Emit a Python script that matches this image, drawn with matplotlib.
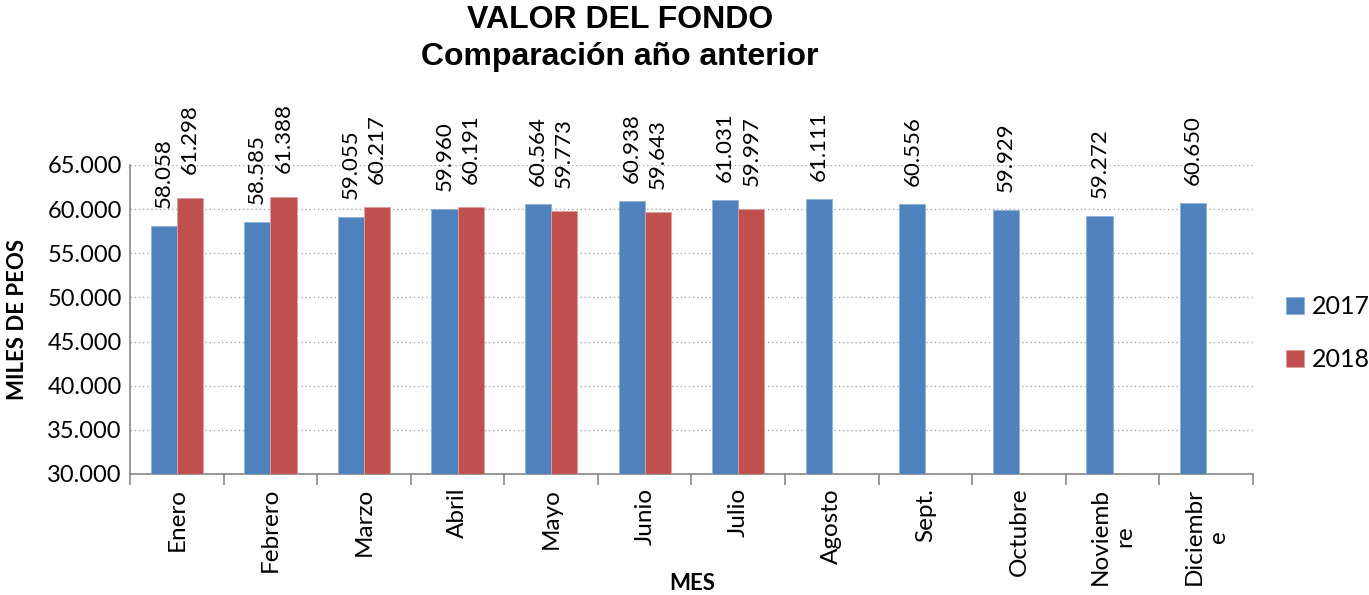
import matplotlib
matplotlib.use("Agg")
import matplotlib.pyplot as plt
import numpy as np

months = ["Enero", "Febrero", "Marzo", "Abril", "Mayo", "Junio", "Julio",
          "Agosto", "Sept.", "Octubre", "Noviemb\nre", "Diciembr\ne"]
v2017 = [58058, 58585, 59055, 59960, 60564, 60938, 61031, 61111, 60556, 59929, 59272, 60650]
v2018 = [61298, 61388, 60217, 60191, 59773, 59643, 59997]
yticks = [30000, 35000, 40000, 45000, 50000, 55000, 60000, 65000]

def fmt(v):
    return f"{v:,}".replace(",", ".")

plt.rcParams['font.family'] = ['Lato', 'DejaVu Sans']

fig = plt.figure(figsize=(13.69, 5.95), dpi=100)
ax = fig.add_axes([130/1369, 1-474/595, (1253-130)/1369, (474-165)/595])

blue = "#4F81BD"
red = "#C0504D"
w = 0.28
x = np.arange(len(months))
x18 = np.arange(len(v2018))
b1 = ax.bar(x - w/2, v2017, w, color=blue, edgecolor="#8FB0DA", linewidth=0.6, label="2017", zorder=3)
b2 = ax.bar(x18 + w/2, v2018, w, color=red, edgecolor="#E0A09E", linewidth=0.6, label="2018", zorder=3)

for xi, v in zip(x - w/2, v2017):
    ax.annotate(fmt(v), (xi, v), xytext=(0, 13), textcoords="offset points",
                rotation=90, ha="center", va="bottom", fontsize=16, clip_on=False)
for xi, v in zip(x18 + w/2, v2018):
    ax.annotate(fmt(v), (xi, v), xytext=(0, 17), textcoords="offset points",
                rotation=90, ha="center", va="bottom", fontsize=16, clip_on=False)

ax.set_xlim(-0.5, len(months) - 0.5)
ax.set_ylim(30000, 65000)
ax.set_yticks(yticks)
ax.set_yticklabels([fmt(v) for v in yticks], fontsize=17)
ax.tick_params(axis="y", length=0, pad=6)

ax.set_xticks(np.arange(len(months) + 1) - 0.5)
ax.set_xticklabels([])
ax.tick_params(axis="x", length=8, color="#888888", width=1.2, direction="out")
for xi, m in zip(x, months):
    ax.text(xi, -0.045, m, transform=ax.get_xaxis_transform(), rotation=90,
            ha="center", va="top", multialignment="center", fontsize=17.5)

ax.grid(axis="y", linestyle=(0, (1, 2)), color="#AAAAAA", linewidth=1, zorder=0)
for s in ["top", "right"]:
    ax.spines[s].set_visible(False)
for s in ["left", "bottom"]:
    ax.spines[s].set_color("#888888")
    ax.spines[s].set_linewidth(1.2)

fig.text(18/1369, 1-319/595, "MILES DE PEOS", rotation=90, ha="center", va="center",
         fontsize=16, fontweight="bold")
fig.text(692/1369, 1-583/595, "MES", ha="center", va="center", fontsize=16, fontweight="bold")

fig.text(620/1369, 1-20/595, "VALOR DEL FONDO", ha="center", va="center",
         fontsize=23, fontweight="bold", family="Liberation Sans")
fig.text(620/1369, 1-57/595, "Comparación año anterior", ha="center", va="center",
         fontsize=23, fontweight="bold", family="Liberation Sans")

fig.legend(handles=[b1, b2], labels=["2017", "2018"], loc="center left",
           bbox_to_anchor=(1286/1369, 1-333/595), frameon=False, fontsize=18,
           handlelength=0.7, handleheight=0.7, handletextpad=0.35, labelspacing=1.2,
           borderpad=0, borderaxespad=0)

fig.savefig("out.png", dpi=100)
